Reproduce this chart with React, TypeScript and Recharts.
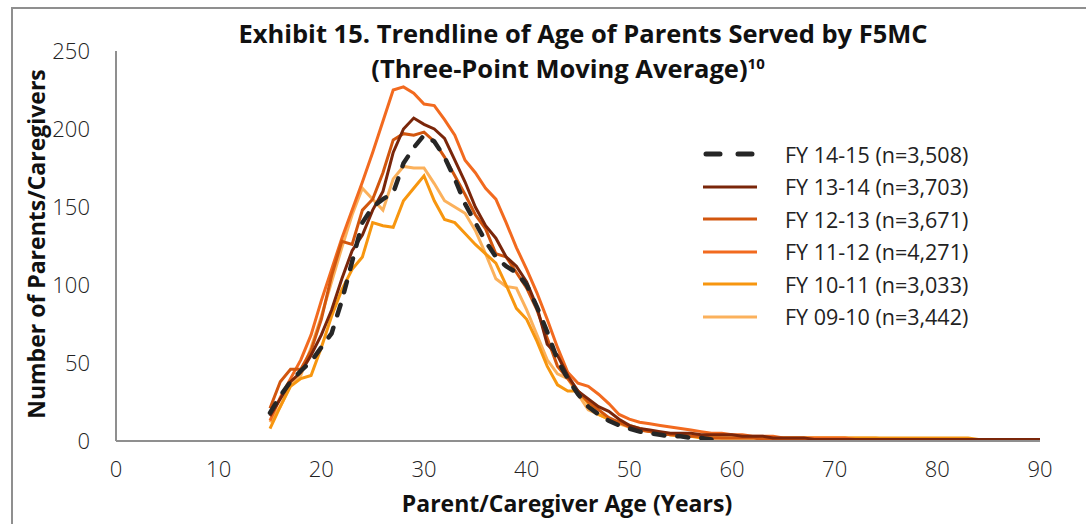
import { LineChart, Line, XAxis, YAxis } from 'recharts';

const ages = [
  15, 16, 17, 18, 19, 20, 21, 22, 23, 24, 25, 26, 27, 28, 29, 30, 31, 32, 33, 34,
  35, 36, 37, 38, 39, 40, 41, 42, 43, 44, 45, 46, 47, 48, 49, 50, 51, 52, 53, 54,
  55, 56, 57, 58, 59, 60, 61, 62, 63, 64, 65, 66, 67, 68, 69, 70, 71, 72, 73, 74,
  75, 76, 77, 78, 79, 80, 81, 82, 83, 84, 85, 86, 87, 88, 89, 90,
];

const fy1415 = [
  18, 29, 38, 45, 51, 60, 69, 90, 115, 140, 150, 155, 159, 178, 188, 196, 192, 182, 168, 152,
  140, 128, 118, 112, 108, 100, 86, 70, 52, 40, 30, 22, 17, 13, 10, 8, 6, 5, 4, 3,
  3, 2, 2, 1, null, null, null, null, null, null, null, null, null, null, null, null, null, null, null, null,
  null, null, null, null, null, null, null, null, null, null, null, null, null, null, null, null,
];

const fy1314 = [
  16, 27, 38, 44, 55, 68, 84, 104, 122, 132, 148, 160, 185, 200, 207, 203, 200, 194, 180, 166,
  150, 138, 130, 118, 112, 102, 86, 62, 55, 42, 32, 27, 22, 19, 14, 10, 8, 7, 6, 5,
  5, 5, 4, 4, 4, 4, 3, 3, 3, 2, 2, 2, 2, 1, 1, 1, 1, 1, 1, 1,
  1, 1, 1, 1, 1, 1, 1, 1, 1, 1, 1, 1, 1, 1, 1, 1,
];

const fy1213 = [
  21, 38, 46, 46, 58, 78, 106, 128, 126, 148, 155, 172, 193, 197, 196, 198, 192, 182, 170, 158,
  145, 136, 120, 118, 108, 98, 84, 66, 48, 40, 32, 25, 20, 15, 12, 9, 7, 6, 5, 4,
  4, 3, 3, 2, 2, 2, 2, 2, 1, 1, 1, 1, 1, 1, 1, 1, 1, 1, 1, 1,
  1, 1, 1, 1, 1, 1, 1, 1, 1, 1, 1, 1, 1, 1, 1, 1,
];

const fy1112 = [
  13, 28, 40, 52, 68, 90, 110, 130, 148, 166, 185, 205, 225, 227, 223, 216, 215, 206, 196, 180,
  172, 162, 155, 140, 124, 110, 95, 78, 60, 44, 37, 35, 30, 24, 17, 14, 12, 11, 10, 9,
  8, 7, 6, 5, 5, 4, 4, 3, 3, 3, 2, 2, 2, 2, 2, 2, 2, 1, 1, 1,
  1, 1, 1, 1, 1, 1, 1, 1, 1, 1, 1, 1, 1, 1, 1, 1,
];

const fy1011 = [
  8, 22, 35, 40, 42, 60, 80, 97, 110, 118, 140, 138, 137, 154, 162, 170, 154, 142, 140, 133,
  126, 120, 114, 100, 85, 78, 64, 48, 36, 32, 32, 24, 17, 14, 12, 10, 8, 6, 5, 4,
  3, 3, 2, 2, 2, 2, 2, 2, 2, 2, 2, 2, 2, 2, 2, 2, 2, 2, 2, 2,
  2, 2, 2, 2, 2, 2, 2, 2, 2, 1, 1, 1, 1, 1, 1, 1,
];

const fy0910 = [
  12, 22, 36, 42, 60, 80, 102, 124, 145, 162, 155, 148, 168, 176, 175, 175, 165, 154, 150, 146,
  135, 120, 104, 99, 98, 84, 68, 52, 43, 40, 30, 20, 17, 14, 11, 9, 7, 6, 5, 4,
  4, 3, 3, 3, 2, 2, 2, 2, 2, 2, 2, 2, 2, 2, 2, 2, 2, 2, 2, 2,
  1, 1, 1, 1, 1, 1, 1, 1, 1, 1, 1, 1, 1, 1, 1, 1,
];

const xTicks = [0, 10, 20, 30, 40, 50, 60, 70, 80, 90];
const yTicks = [0, 50, 100, 150, 200, 250];

const series = [
  { key: 'fy0910', name: 'FY 09-10 (n=3,442)', color: '#FBB15C', dash: undefined },
  { key: 'fy1011', name: 'FY 10-11 (n=3,033)', color: '#F7960F', dash: undefined },
  { key: 'fy1112', name: 'FY 11-12 (n=4,271)', color: '#F26A1F', dash: undefined },
  { key: 'fy1213', name: 'FY 12-13 (n=3,671)', color: '#D2560E', dash: undefined },
  { key: 'fy1314', name: 'FY 13-14 (n=3,703)', color: '#7A260A', dash: undefined },
  { key: 'fy1415', name: 'FY 14-15 (n=3,508)', color: '#262626', dash: '11 13' },
];

const data = ages.map((age, i) => ({
  age,
  fy1415: fy1415[i],
  fy1314: fy1314[i],
  fy1213: fy1213[i],
  fy1112: fy1112[i],
  fy1011: fy1011[i],
  fy0910: fy0910[i],
}));

const font = '"Open Sans", "Segoe UI", sans-serif';
const tickStyle = { fontFamily: font, fontSize: 22, fontWeight: 300, fill: '#222' };
const titleStyle = {
  position: 'absolute' as const,
  left: 0,
  textAlign: 'center' as const,
  fontFamily: font,
  fontWeight: 700,
  fontSize: 25.5,
  color: '#111',
  lineHeight: '34px',
  whiteSpace: 'nowrap' as const,
};

function LegendBox() {
  const rows = [...series].reverse();
  return (
    <div style={{ position: 'absolute', left: 703, top: 138, fontFamily: font, fontSize: 21.5, color: '#222' }}>
      {rows.map((s) => (
        <div key={s.key} style={{ display: 'flex', alignItems: 'center', height: 32.5 }}>
          <svg width={82} height={10} style={{ flex: 'none' }}>
            <line
              x1={s.dash ? 3 : 0}
              y1={5}
              x2={s.dash ? 51 : 54}
              y2={5}
              stroke={s.color}
              strokeWidth={s.dash ? 5 : 3}
              strokeDasharray={s.dash ? '14 18' : undefined}
              strokeLinecap={s.dash ? 'round' : 'butt'}
            />
          </svg>
          <span style={{ whiteSpace: 'nowrap' }}>{s.name}</span>
        </div>
      ))}
    </div>
  );
}

export default function App() {
  return (
    <div style={{ position: 'fixed', left: 0, top: 0, width: 1086, height: 524, overflow: 'hidden', background: '#fff' }}>
      <div style={{ position: 'absolute', left: 11, top: 7, width: 2000, height: 2000, border: '2px solid #8f8f8f' }} />
      <div style={{ position: 'absolute', left: 0, top: 0 }}>
        <LineChart width={1086} height={524} data={data} margin={{ top: 51, right: 46, bottom: 33, left: 16 }}>
          <XAxis
            dataKey="age"
            type="number"
            domain={[0, 90]}
            ticks={xTicks}
            tickLine={false}
            tickSize={0}
            tickMargin={20}
            height={50}
            axisLine={{ stroke: '#8f8f8f', strokeWidth: 2 }}
            tick={tickStyle}
            interval={0}
          />
          <YAxis
            type="number"
            domain={[0, 250]}
            ticks={yTicks}
            tickLine={false}
            tickSize={0}
            tickMargin={26}
            width={100}
            axisLine={{ stroke: '#8f8f8f', strokeWidth: 2 }}
            tick={tickStyle}
            interval={0}
          />
          {series.map((s) => (
            <Line
              key={s.key}
              type="linear"
              dataKey={s.key}
              name={s.name}
              stroke={s.color}
              strokeWidth={s.dash ? 4.5 : 3}
              strokeDasharray={s.dash}
              strokeLinecap={s.dash ? 'round' : 'butt'}
              dot={false}
              activeDot={false}
              isAnimationActive={false}
            />
          ))}
        </LineChart>
      </div>
      <div style={{ ...titleStyle, top: 16, width: 1166 }}>
        Exhibit 15. Trendline of Age of Parents Served by F5MC
      </div>
      <div style={{ ...titleStyle, top: 51, width: 1136 }}>
        (Three-Point Moving Average)<sup style={{ fontSize: 15, verticalAlign: 'top', position: 'relative', top: -5 }}>10</sup>
      </div>
      <div style={{ position: 'absolute', left: 36, top: 244, transform: 'translate(-50%, -50%) rotate(-90deg)', whiteSpace: 'nowrap', fontFamily: font, fontWeight: 700, fontSize: 23, color: '#111' }}>
        Number of Parents/Caregivers
      </div>
      <div style={{ position: 'absolute', left: 0, top: 487, width: 1134, textAlign: 'center', fontFamily: font, fontWeight: 700, fontSize: 23, color: '#111' }}>
        Parent/Caregiver Age (Years)
      </div>
      <LegendBox />
    </div>
  );
}
